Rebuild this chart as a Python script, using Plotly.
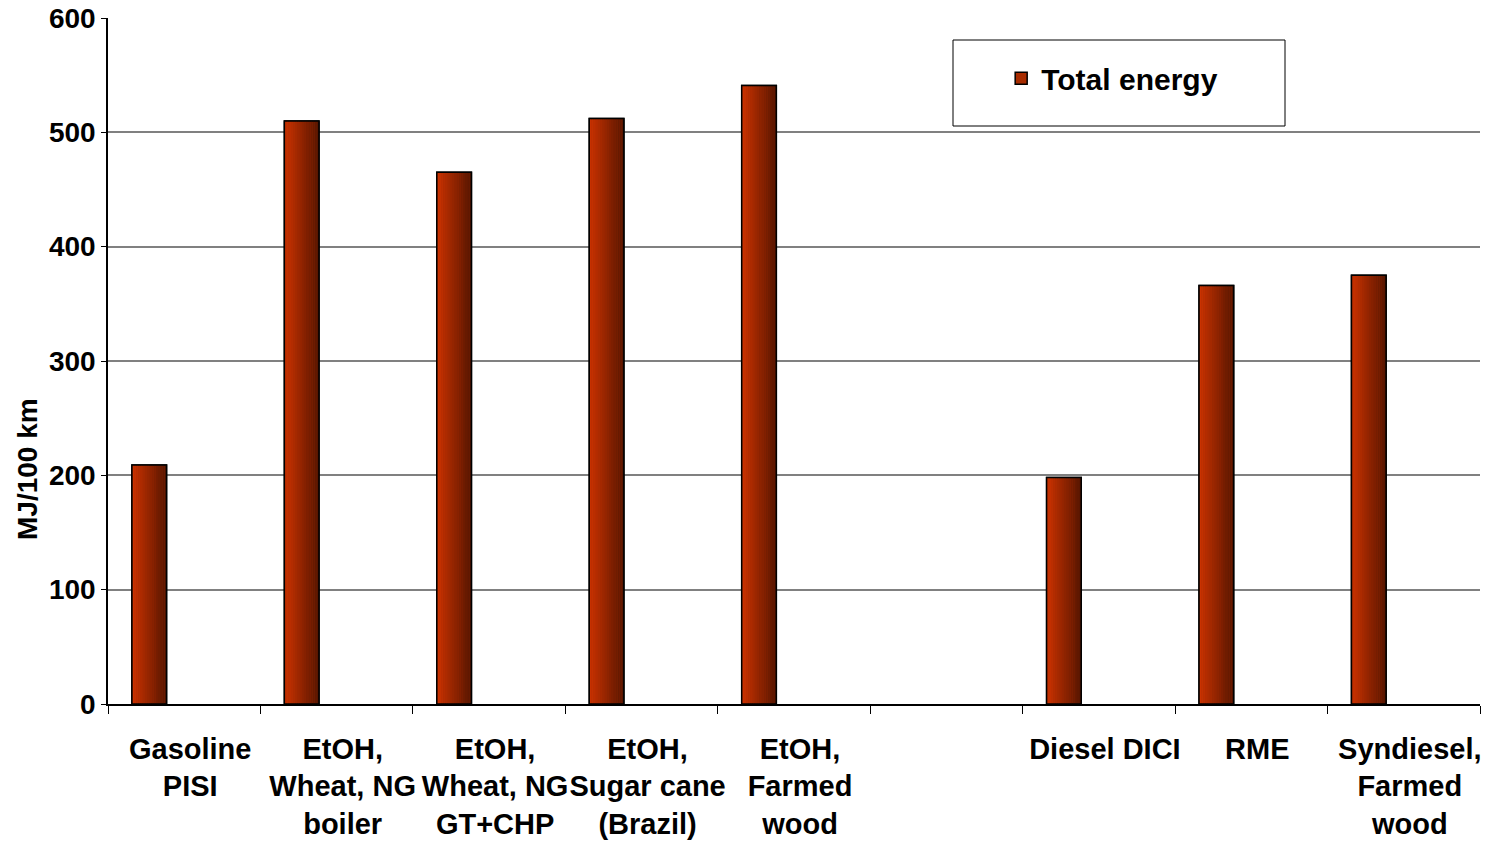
import plotly.graph_objects as go

# ---- data ----
categories = ["Gasoline PISI", "EtOH, Wheat, NG boiler", "EtOH, Wheat, NG GT+CHP",
              "EtOH, Sugar cane (Brazil)", "EtOH, Farmed wood", " ",
              "Diesel DICI", "RME", "Syndiesel, Farmed wood"]
tick_labels = ["Gasoline<br>PISI", "EtOH,<br>Wheat, NG<br>boiler", "EtOH,<br>Wheat, NG<br>GT+CHP",
               "EtOH,<br>Sugar cane<br>(Brazil)", "EtOH,<br>Farmed<br>wood", " ",
               "Diesel DICI", "RME", "Syndiesel,<br>Farmed<br>wood"]
total_energy = [209, 510, 465, 512, 541, None, 198, 366, 375]
series_name = "Total energy"
y_ticks = [0, 100, 200, 300, 400, 500, 600]

FONT = "Liberation Sans, Arial, sans-serif"
BAR_OFFSET = -0.343
BAR_WIDTH = 0.227
N_SLICES = 16
C_LEFT = (202, 50, 0)
C_RIGHT = (88, 22, 0)

fig = go.Figure()

# base bar (also provides legend swatch)
fig.add_trace(go.Bar(
    x=categories, y=total_energy, name=series_name,
    offset=BAR_OFFSET, width=BAR_WIDTH,
    marker=dict(color="#A82C00", line=dict(color="black", width=1.5)),
    showlegend=True, hoverinfo="skip"))

# gradient slices
for i in range(N_SLICES):
    t = i / (N_SLICES - 1)
    c = tuple(round(C_LEFT[k] + (C_RIGHT[k] - C_LEFT[k]) * t) for k in range(3))
    fig.add_trace(go.Bar(
        x=categories, y=total_energy,
        offset=BAR_OFFSET + i * BAR_WIDTH / N_SLICES,
        width=BAR_WIDTH / N_SLICES * 1.05,
        marker=dict(color="rgb(%d,%d,%d)" % c, line=dict(width=0)),
        showlegend=False, hoverinfo="skip"))

# outline on top
fig.add_trace(go.Bar(
    x=categories, y=total_energy,
    offset=BAR_OFFSET, width=BAR_WIDTH,
    marker=dict(color="rgba(0,0,0,0)", line=dict(color="black", width=1.5)),
    showlegend=False, hovertemplate="%{x}: %{y}<extra></extra>"))

fig.update_layout(
    width=1490, height=842,
    margin=dict(l=108, r=10, t=18, b=138, autoexpand=False),
    paper_bgcolor="white", plot_bgcolor="white",
    barmode="overlay",
    font=dict(family=FONT, size=28, color="black"),
    showlegend=True,
    legend=dict(x=0.651, y=0.95, xanchor="left", yanchor="top",
                bgcolor="rgba(0,0,0,0)", borderwidth=0,
                font=dict(family=FONT, size=30, color="black", weight="bold")),
    xaxis=dict(type="category", tickmode="array", tickvals=categories, ticktext=tick_labels,
               tickangle=0, automargin=False,
               showline=True, linecolor="black", linewidth=1.5,
               ticks="outside", tickson="boundaries", ticklen=8, tickcolor="black", tickwidth=1,
               ticklabelstandoff=18, ticklabelshift=6,
               tickfont=dict(family=FONT, size=29, color="black", weight="bold"),
               showgrid=False, zeroline=False, range=[-0.5, 8.5]),
    yaxis=dict(range=[0, 600], tickvals=y_ticks, automargin=False,
               showline=True, linecolor="black", linewidth=1.5,
               ticks="outside", ticklen=5, tickcolor="black", tickwidth=1,
               tickfont=dict(family=FONT, size=28, color="black", weight="bold"),
               showgrid=True, gridcolor="#808080", gridwidth=1.5, zeroline=False),
    shapes=[dict(type="rect", xref="paper", yref="paper",
                 x0=(953 - 108) / 1372, x1=(1285 - 108) / 1372,
                 y0=(704 - 126) / 686, y1=(704 - 40) / 686,
                 line=dict(color="black", width=1), fillcolor="white", layer="below")],
    annotations=[dict(text="<b>MJ/100 km</b>", textangle=-90, xref="paper", yref="paper",
                      x=(27 - 108) / 1372, y=(704 - 469) / 686, xanchor="center", yanchor="middle",
                      showarrow=False, font=dict(family=FONT, size=28, color="black"))],
)

fig.write_html("out.html", config={"displayModeBar": False},
               post_script="document.body.style.margin='0';document.body.style.overflow='hidden';")
